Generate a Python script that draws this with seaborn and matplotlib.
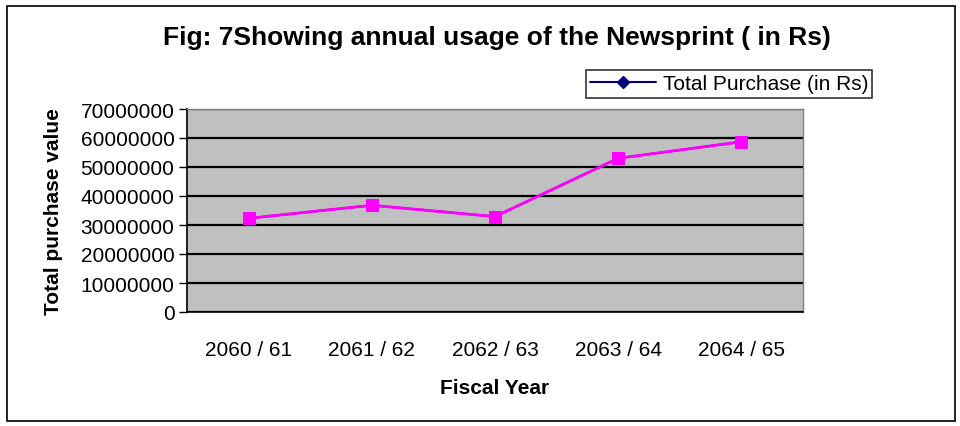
import matplotlib
matplotlib.use("Agg")
import matplotlib.pyplot as plt
import seaborn as sns
import pandas as pd
import numpy as np
from matplotlib.ticker import FixedLocator, FuncFormatter
from matplotlib.lines import Line2D
from matplotlib.patches import Rectangle

# ---- data ----
fiscal_years = ["2060 / 61", "2061 / 62", "2062 / 63", "2063 / 64", "2064 / 65"]
total_purchase = [32300000, 36800000, 32900000, 53000000, 58700000]
y_ticks = [0, 10000000, 20000000, 30000000, 40000000, 50000000, 60000000, 70000000]
title_text = "Fig: 7Showing annual usage of the Newsprint ( in Rs)"
legend_label = "Total Purchase (in Rs)"
x_label = "Fiscal Year"
y_label = "Total purchase value"

sns.set_style("white")
plt.rcParams["font.family"] = ["Liberation Sans", "DejaVu Sans"]
plt.rcParams["text.color"] = "black"
plt.rcParams["axes.labelcolor"] = "black"
plt.rcParams["xtick.color"] = "black"
plt.rcParams["ytick.color"] = "black"

df = pd.DataFrame({"pos": np.arange(len(fiscal_years)), "year": fiscal_years,
                   "value": total_purchase})

fig = plt.figure(figsize=(9.6, 4.27), dpi=100)
fig.patch.set_facecolor("white")
# outer chart border
fig.add_artist(Rectangle((7 / 960, 1 - 422 / 427), 948 / 960, 415 / 427,
                         transform=fig.transFigure, fill=False,
                         edgecolor="black", linewidth=1.2))

ax = fig.add_axes([187 / 960, 1 - 313 / 427, 616 / 960, 203 / 427])
ax.set_facecolor("#C0C0C0")

sns.lineplot(data=df, x="pos", y="value", ax=ax, color="#000080", marker="D",
             markersize=6, markeredgecolor="#000080", linewidth=1.5, zorder=3)
sns.lineplot(data=df, x="pos", y="value", ax=ax, color="#FF00FF", marker="s",
             markersize=9, markeredgecolor="#FF00FF", linewidth=2, zorder=4)

ax.set_xlim(-0.5, len(fiscal_years) - 0.5)
ax.set_ylim(0, 70000000)
ax.set_xticks(df["pos"])
ax.set_xticklabels(fiscal_years)
ax.xaxis.set_minor_locator(FixedLocator(np.arange(-0.5, len(fiscal_years), 1.0)))
ax.tick_params(axis="x", which="major", length=0, pad=20, labelsize=15,
               labelcolor="black")
ax.tick_params(axis="x", which="minor", length=6, width=1, direction="out", color="black")
ax.set_yticks(y_ticks)
ax.yaxis.set_major_formatter(FuncFormatter(lambda v, p: f"{int(v)}"))
ax.tick_params(axis="y", length=6, width=1, direction="out", labelsize=15,
               color="black", labelcolor="black", left=True, pad=3)

ax.grid(axis="y", color="black", linewidth=1.6)
ax.set_axisbelow(True)
for s in ["top", "right"]:
    ax.spines[s].set_color("#808080")
    ax.spines[s].set_linewidth(1)
for s in ["left", "bottom"]:
    ax.spines[s].set_color("black")
    ax.spines[s].set_linewidth(1.2)

ax.set_xlabel(x_label, fontsize=15, fontweight="bold", labelpad=14, color="black")
ax.set_ylabel(y_label, fontsize=15, fontweight="bold", labelpad=13, color="black")

fig.text(497 / 960, 1 - 38 / 427, title_text, ha="center", va="center",
         fontsize=19, fontweight="bold", color="black")

handle = Line2D([], [], color="#000080", marker="D", markersize=6, linewidth=1.5)
leg = fig.legend([handle], [legend_label], loc="center",
                 bbox_to_anchor=(729 / 960, 1 - 85 / 427), fontsize=15,
                 frameon=True, fancybox=False, edgecolor="black",
                 handlelength=3.2, handletextpad=0.3, borderpad=0.2,
                 borderaxespad=0)
leg.get_frame().set_linewidth(1.2)
for t in leg.get_texts():
    t.set_color("black")

fig.savefig("out.png", dpi=100)
